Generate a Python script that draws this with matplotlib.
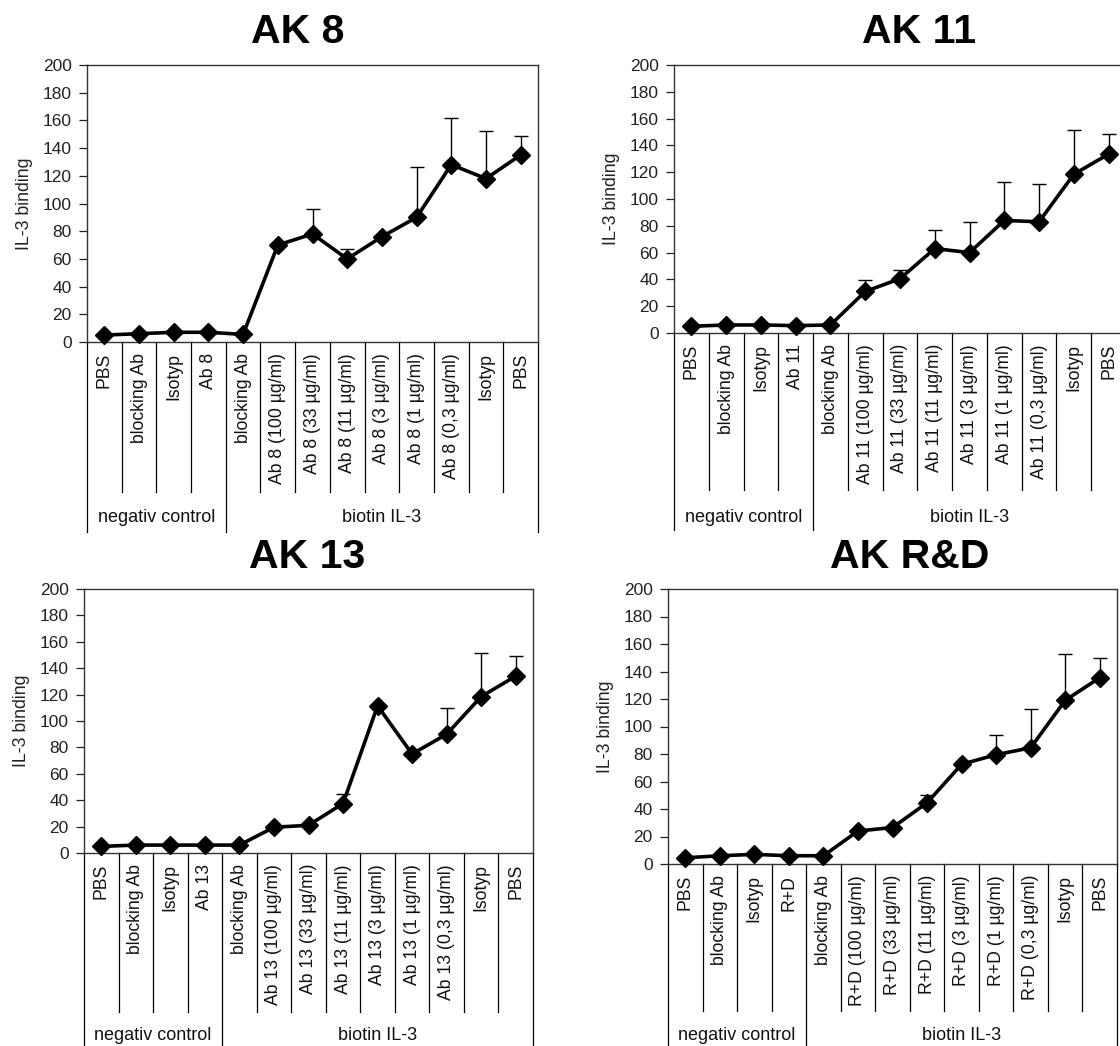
import matplotlib
matplotlib.use("Agg")
import matplotlib.pyplot as plt
import matplotlib.transforms as mtransforms
import numpy as np

plt.rcParams['font.family'] = ['Liberation Sans', 'DejaVu Sans']

# ---------------- data ----------------
groups = ["negativ control", "biotin IL-3"]

cats_ak8 = ["PBS", "blocking Ab", "Isotyp", "Ab 8", "blocking Ab",
            "Ab 8 (100 µg/ml)", "Ab 8 (33 µg/ml)", "Ab 8 (11 µg/ml)",
            "Ab 8 (3 µg/ml)", "Ab 8 (1 µg/ml)", "Ab 8 (0,3 µg/ml)", "Isotyp", "PBS"]
mean_ak8 = [5, 6, 7, 7, 5.5, 70, 78, 60, 76, 90, 128, 118, 135]
err_ak8 = [0, 0, 0, 0, 0, 0, 18, 7, 0, 36, 34, 34, 14]

cats_ak11 = ["PBS", "blocking Ab", "Isotyp", "Ab 11", "blocking Ab",
             "Ab 11 (100 µg/ml)", "Ab 11 (33 µg/ml)", "Ab 11 (11 µg/ml)",
             "Ab 11 (3 µg/ml)", "Ab 11 (1 µg/ml)", "Ab 11 (0,3 µg/ml)", "Isotyp", "PBS"]
mean_ak11 = [5, 6, 6, 5.5, 6, 31, 40.5, 63, 60, 84, 83, 118.5, 133.5]
err_ak11 = [0, 0, 0, 0, 0, 8.3, 6.3, 13.8, 23, 28.5, 28.5, 33.3, 15]

cats_ak13 = ["PBS", "blocking Ab", "Isotyp", "Ab 13", "blocking Ab",
             "Ab 13 (100 µg/ml)", "Ab 13 (33 µg/ml)", "Ab 13 (11 µg/ml)",
             "Ab 13 (3 µg/ml)", "Ab 13 (1 µg/ml)", "Ab 13 (0,3 µg/ml)", "Isotyp", "PBS"]
mean_ak13 = [5, 6, 6, 6, 6, 19.5, 21, 37.5, 111.5, 75, 90, 118.5, 134]
err_ak13 = [0, 0, 0, 0, 0, 0, 0, 7.4, 0, 0, 20, 33.3, 15]

cats_rd = ["PBS", "blocking Ab", "Isotyp", "R+D", "blocking Ab",
           "R+D (100 µg/ml)", "R+D (33 µg/ml)", "R+D (11 µg/ml)",
           "R+D (3 µg/ml)", "R+D (1 µg/ml)", "R+D (0,3 µg/ml)", "Isotyp", "PBS"]
mean_rd = [4.5, 6, 7, 6, 6, 24, 26.5, 44.5, 72.5, 79.5, 84.5, 119, 135.5]
err_rd = [0, 0, 0, 0, 0, 0, 0, 5.7, 0, 14.2, 28.2, 33.5, 14.3]

n_neg = 4  # categories in the negative-control group

# ---------------- figure ----------------
W, H = 1120, 1046
fig = plt.figure(figsize=(W / 100, H / 100), dpi=100)

TICK_FS = 12.5
CAT_FS = 12.7
GROUP_FS = 13
LAB_FS = 12.8
TITLE_FS = 29.5


def draw_panel(title, cats, mean, err, box, title_xy, div_drop, group_drop, group_y):
    left, top, right, zero = box
    h = zero - top
    ax = fig.add_axes([left / W, 1 - zero / H, (right - left) / W, h / H])
    x = np.arange(len(cats))
    mean = np.asarray(mean, float)
    err = np.asarray(err, float)

    mask = err > 0
    ax.errorbar(x[mask], mean[mask], yerr=[np.zeros(mask.sum()), err[mask]],
                fmt='none', ecolor='black', elinewidth=1.0, capsize=5,
                capthick=1.0, zorder=2)
    ax.plot(x, mean, color='black', lw=2.6, marker='D', ms=9,
            mec='black', mfc='black', zorder=3, clip_on=False)

    ax.set_xlim(-0.5, len(cats) - 0.5)
    ax.set_ylim(0, 200)
    ax.set_yticks(np.arange(0, 201, 20))
    ax.set_xticks([])
    ax.tick_params(axis='y', direction='out', length=6, width=0.9,
                   labelsize=TICK_FS, pad=5, colors='#222222', labelcolor='#222222')
    for s in ax.spines.values():
        s.set_linewidth(1.0)
        s.set_color('#333333')
    ax.set_ylabel("IL-3 binding", fontsize=LAB_FS, color='#222222', labelpad=7)

    trans = mtransforms.blended_transform_factory(ax.transData, ax.transAxes)
    n = len(cats)
    # short dividers between the categories
    for k in range(n - 1):
        if k + 1 == n_neg:
            continue
        ax.plot([k + 0.5, k + 0.5], [0, -div_drop / h], transform=trans,
                color='black', lw=0.9, clip_on=False)
    # long dividers: outer edges and the group boundary
    for xb in (-0.5, n_neg - 0.5, n - 0.5):
        ax.plot([xb, xb], [0, -group_drop / h], transform=trans,
                color='black', lw=0.9, clip_on=False)
    for i, c in enumerate(cats):
        ax.text(i, -11 / h, c, rotation=90, ha='center', va='top',
                transform=trans, fontsize=CAT_FS, color='#111111')
    ax.text((n_neg - 1) / 2, -group_y / h, groups[0], ha='center', va='center',
            transform=trans, fontsize=GROUP_FS, color='#111111')
    ax.text((n_neg + n - 1) / 2, -group_y / h, groups[1], ha='center', va='center',
            transform=trans, fontsize=GROUP_FS, color='#111111')

    fig.text(title_xy[0] / W, 1 - title_xy[1] / H, title, ha='center', va='center',
             fontsize=TITLE_FS, fontweight='bold')
    return ax


draw_panel("AK 8", cats_ak8, mean_ak8, err_ak8,
           (87, 65, 538, 342), (298, 32), 150, 190, 175)
draw_panel("AK 11", cats_ak11, mean_ak11, err_ak11,
           (674, 65, 1126, 333), (919, 32), 157, 197, 184)
draw_panel("AK 13", cats_ak13, mean_ak13, err_ak13,
           (84, 589, 533, 853), (307, 557), 159, 200, 182)
draw_panel("AK R&D", cats_rd, mean_rd, err_rd,
           (668, 589, 1117, 864), (910, 557), 147, 190, 171)

fig.savefig("out.png", dpi=100, facecolor='white')
